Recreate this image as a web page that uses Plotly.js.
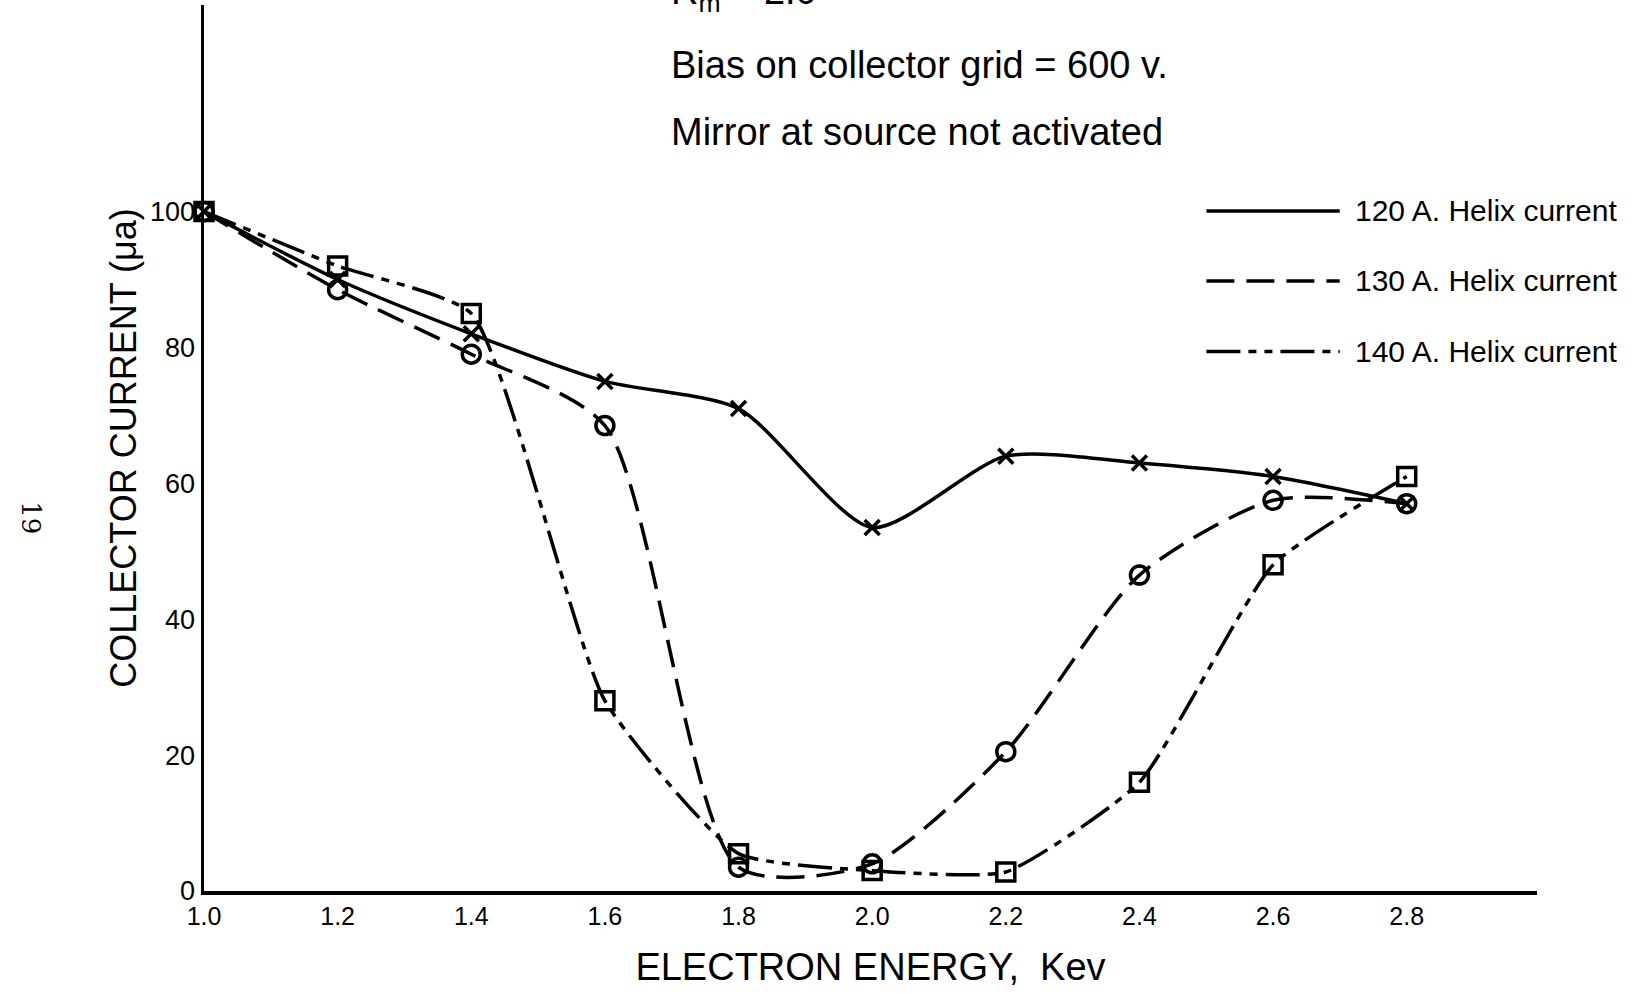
<!DOCTYPE html>
<html>
<head>
<meta charset="utf-8">
<script src="https://cdn.plot.ly/plotly-3.0.1.min.js"></script>
<style>html,body{margin:0;padding:0;background:#fff;}#chart{width:1634px;height:993px;}</style>
</head>
<body>
<div id="chart"></div>
<script>
// Data
const energy = [1.0, 1.2, 1.4, 1.6, 1.8, 2.0, 2.2, 2.4, 2.6, 2.8];
const current120 = [100, 90, 82, 75, 71, 53.5, 64, 63, 61, 57];
const current130 = [100, 88.5, 79, 68.5, 3.5, 4, 20.5, 46.5, 57.5, 57];
const current140 = [100, 92, 85, 28, 5.5, 3, 2.8, 16, 48, 61];
const seriesNames = ["120 A. Helix current", "130 A. Helix current", "140 A. Helix current"];
const xTickVals = [1.0, 1.2, 1.4, 1.6, 1.8, 2.0, 2.2, 2.4, 2.6, 2.8];
const xTickText = ["1.0", "1.2", "1.4", "1.6", "1.8", "2.0", "2.2", "2.4", "2.6", "2.8"];
const yTickVals = [0, 20, 40, 60, 80, 100];
const yTickText = ["0", "20", "40", "60", "80", "100"];

const FONT = "Liberation Sans, Arial, sans-serif";
const dashes = ["solid", "28px,12px", "34px,8px,8px,8px,8px,8px"];
const symbols = ["x-thin-open", "circle-open", "square-open"];
const sizes = [15, 18, 18];
const smooth = [0.7, 0.7, 0.5];
const ys = [current120, current130, current140];

const traces = ys.map((y, i) => ({
  x: energy, y: y, type: "scatter", mode: "lines+markers", name: seriesNames[i],
  line: {color: "#000", width: 3.5, shape: "spline", smoothing: smooth[i], dash: dashes[i]},
  marker: {symbol: symbols[i], size: sizes[i], color: "#000", line: {color: "#000", width: 3.5}},
  showlegend: false, cliponaxis: false
}));

// manual legend
const legY = [0.7675, 0.6885, 0.609];
const shapes = legY.map((yy, i) => ({
  type: "line", xref: "paper", yref: "paper", x0: 0.752, x1: 0.852, y0: yy, y1: yy,
  line: {color: "#000", width: 3.5, dash: dashes[i]}
}));
const annotations = legY.map((yy, i) => ({
  xref: "paper", yref: "paper", x: 0.862, y: yy, xanchor: "left", yanchor: "middle",
  text: seriesNames[i], showarrow: false, font: {family: FONT, size: 30, color: "#000"}
}));
annotations.push(
  {xref: "paper", yref: "paper", x: 0.349, y: 1.012, xanchor: "left", yanchor: "middle",
   text: "R<sub>m</sub> = 2.0", showarrow: false, font: {family: FONT, size: 38, color: "#000"}},
  {xref: "paper", yref: "paper", x: 0.349, y: 0.932, xanchor: "left", yanchor: "middle",
   text: "Bias on collector grid = 600 v.", showarrow: false, font: {family: FONT, size: 38, color: "#000"}},
  {xref: "paper", yref: "paper", x: 0.349, y: 0.857, xanchor: "left", yanchor: "middle",
   text: "Mirror at source not activated", showarrow: false, font: {family: FONT, size: 38, color: "#000"}},
  {xref: "paper", yref: "paper", x: -0.13, y: 0.421, xanchor: "center", yanchor: "middle",
   text: "19", textangle: 90, showarrow: false, font: {family: "DejaVu Serif, serif", size: 26, color: "#000"}}
);

const layout = {
  width: 1634, height: 993,
  margin: {l: 204, r: 97, t: 5, b: 102},
  paper_bgcolor: "#fff", plot_bgcolor: "#fff",
  showlegend: false,
  font: {family: FONT, color: "#000"},
  xaxis: {
    range: [1.0, 2.995], showgrid: false, zeroline: false,
    showline: true, linecolor: "#000", linewidth: 3.5,
    ticks: "", tickvals: xTickVals, ticktext: xTickText,
    tickfont: {family: FONT, size: 25, color: "#000"},
    title: {text: "ELECTRON ENERGY,  Kev", font: {family: FONT, size: 38, color: "#000"}, standoff: 26}
  },
  yaxis: {
    range: [0, 130.4], showgrid: false, zeroline: false,
    showline: true, linecolor: "#000", linewidth: 3.5,
    ticks: "", tickvals: yTickVals, ticktext: yTickText,
    tickfont: {family: FONT, size: 27, color: "#000"},
    title: {text: "COLLECTOR CURRENT (μa)", font: {family: FONT, size: 36, color: "#000"}, standoff: 3}
  },
  shapes: shapes,
  annotations: annotations
};

Plotly.newPlot("chart", traces, layout, {displayModeBar: false, staticPlot: true});
</script>
</body>
</html>
